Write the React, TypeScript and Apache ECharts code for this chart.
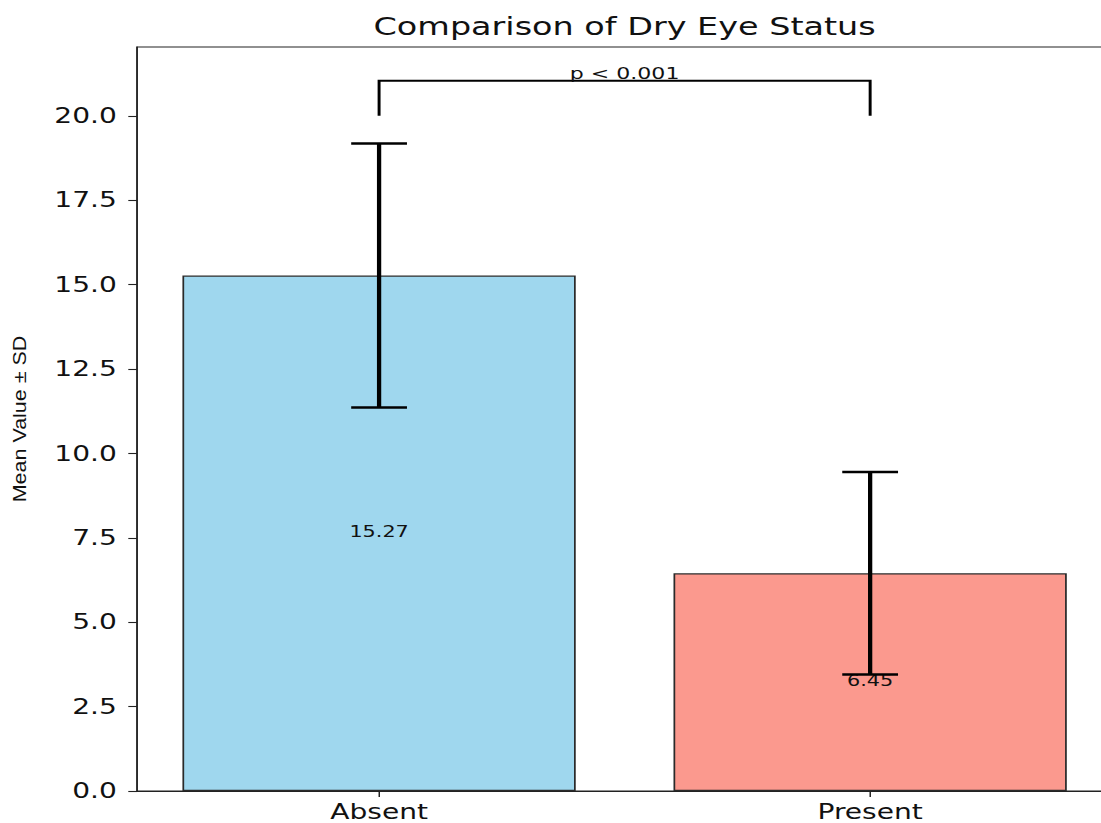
import React, { useEffect, useRef } from "react";
import * as echarts from "echarts";

// ---- data ----
const categories = ["Absent", "Present"];
const meanValues = [15.27, 6.45];
const sdValues = [3.91, 3.0];
const barColors = ["#9fd7ee", "#fb998e"];
const yTicks = [0, 2.5, 5, 7.5, 10, 12.5, 15, 17.5, 20];
const xTicks = [0, 1];
const bracketBase = 20.0;
const bracketTop = 21.04;
const pLabel = "p < 0.001";
const titleText = "Comparison of Dry Eye Status";
const yName = "Mean Value \u00b1 SD";

// the reference is a square figure stretched horizontally
const RENDER_W = 823;
const RENDER_H = 823;
const STRETCH = 1101 / RENDER_W;

const GRID_LEFT = 102.4;
const GRID_TOP = 47;
const GRID_W = 729;
const GRID_H = 744;

export default function App() {
  const ref = useRef<HTMLDivElement>(null);

  useEffect(() => {
    const chart = echarts.init(ref.current!, null, { renderer: "svg" });
    const font = "DejaVu Sans";
    const ink = "#111";
    const axisColor = "#222";

    chart.setOption({
      animation: false,
      title: {
        text: titleText,
        left: GRID_LEFT + 364.5,
        top: 14,
        textAlign: "center",
        padding: 0,
        textStyle: { fontFamily: font, fontSize: 25, fontWeight: "normal", color: ink },
      },
      graphic: [
        {
          type: "text",
          x: 14.6,
          y: GRID_TOP + GRID_H / 2,
          rotation: Math.PI / 2,
          scaleX: 1,
          scaleY: 0.64,
          silent: true,
          style: {
            text: yName,
            align: "center",
            verticalAlign: "middle",
            fontFamily: "Liberation Sans",
            fontSize: 21.5,
            fill: ink,
          },
        },
      ],
      grid: {
        left: GRID_LEFT,
        top: GRID_TOP,
        width: GRID_W,
        height: GRID_H,
        outerBoundsMode: "none",
        containLabel: false,
        show: true,
        borderColor: axisColor,
        borderWidth: 1.1,
        backgroundColor: "transparent",
      },
      xAxis: {
        type: "value",
        min: -0.493,
        max: 1.493,
        splitLine: { show: false },
        axisLine: { show: true, onZero: false, lineStyle: { color: axisColor, width: 1.1 } },
        axisTick: { show: true, length: 6, customValues: xTicks, lineStyle: { color: axisColor, width: 1.1 } },
        axisLabel: {
          customValues: xTicks,
          formatter: (v: number) => categories[Math.round(v)] ?? "",
          margin: 10,
          fontFamily: font,
          fontSize: 21,
          color: ink,
        },
      },
      yAxis: {
        type: "value",
        min: 0,
        max: 22.04,
        splitLine: { show: false },
        axisLine: { show: true, onZero: false, lineStyle: { color: axisColor, width: 1.1 } },
        axisTick: { show: true, length: 6.5, customValues: yTicks, lineStyle: { color: axisColor, width: 1.1 } },
        axisLabel: {
          customValues: yTicks,
          formatter: (v: number) => v.toFixed(1),
          margin: 15,
          fontFamily: font,
          fontSize: 21,
          color: ink,
        },
      },
      series: [
        {
          type: "bar",
          data: meanValues.map((m, i) => ({ value: [i, m], itemStyle: { color: barColors[i] } })),
          barWidth: 294,
          itemStyle: { borderColor: "#2a2a2a", borderWidth: 1.3 },
          label: {
            show: true,
            position: "inside",
            offset: [0, -2],
            formatter: (p: any) => Number(p.value[1]).toFixed(2),
            fontFamily: font,
            fontSize: 15.5,
            color: ink,
          },
          z: 2,
        },
        {
          type: "custom",
          data: meanValues.map((m, i) => [i, m, sdValues[i]]),
          encode: { x: 0, y: 1 },
          z: 5,
          renderItem: (params: any, api: any) => {
            const x = api.value(0);
            const m = api.value(1);
            const s = api.value(2);
            const lo = api.coord([x, m - s]);
            const hi = api.coord([x, m + s]);
            const hw = 20.85;
            return {
              type: "group",
              children: [
                { type: "line", shape: { x1: lo[0], y1: lo[1], x2: hi[0], y2: hi[1] }, style: { stroke: "#000", lineWidth: 3.2 } },
                { type: "line", shape: { x1: hi[0] - hw, y1: hi[1], x2: hi[0] + hw, y2: hi[1] }, style: { stroke: "#000", lineWidth: 2.4 } },
                { type: "line", shape: { x1: lo[0] - hw, y1: lo[1], x2: lo[0] + hw, y2: lo[1] }, style: { stroke: "#000", lineWidth: 2.4 } },
              ],
            };
          },
        },
        {
          type: "custom",
          data: [[0, 1, bracketBase, bracketTop]],
          encode: { x: [0, 1], y: [2, 3] },
          z: 6,
          renderItem: (params: any, api: any) => {
            const x0 = api.value(0);
            const x1 = api.value(1);
            const b = api.value(2);
            const t = api.value(3);
            const p1 = api.coord([x0, b]);
            const p2 = api.coord([x0, t]);
            const p3 = api.coord([x1, t]);
            const p4 = api.coord([x1, b]);
            const mid = api.coord([(x0 + x1) / 2, t]);
            return {
              type: "group",
              children: [
                {
                  type: "polyline",
                  shape: { points: [p1, p2, p3, p4] },
                  style: { stroke: "#000", lineWidth: 2.2, fill: "none" },
                },
                {
                  type: "text",
                  x: mid[0],
                  y: mid[1] + 1.5,
                  style: {
                    text: pLabel,
                    align: "center",
                    verticalAlign: "bottom",
                    fontFamily: font,
                    fontSize: 16.5,
                    fill: ink,
                  },
                },
              ],
            };
          },
        },
      ],
    });

    return () => chart.dispose();
  }, []);

  return (
    <div
      ref={ref}
      style={{
        position: "absolute",
        left: 0,
        top: 0,
        width: RENDER_W,
        height: RENDER_H,
        transform: `scaleX(${STRETCH})`,
        transformOrigin: "0 0",
      }}
    />
  );
}
